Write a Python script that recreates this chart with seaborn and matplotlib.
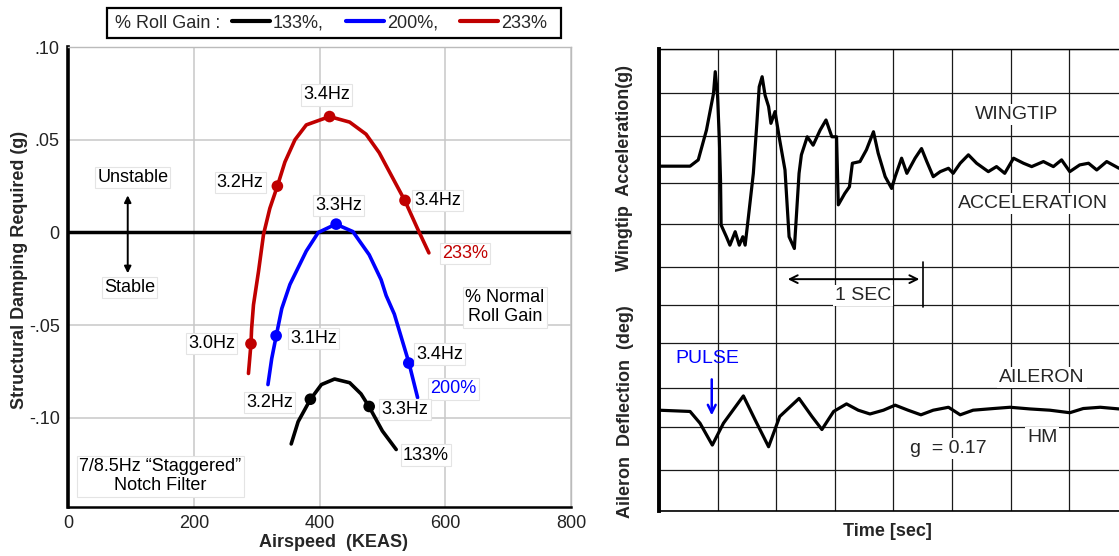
import numpy as np
import pandas as pd
import matplotlib
matplotlib.use("Agg")
import matplotlib.pyplot as plt
from matplotlib.patches import Rectangle
from matplotlib.lines import Line2D
import seaborn as sns

# ---------------- left chart data ----------------
gain_labels = ["133%", "200%", "233%"]
gain_colors = ["#000000", "#0000ff", "#c00000"]

speed_133 = [355, 366, 385.5, 403, 424, 448, 466, 479, 500, 522]
damp_133 = [-0.114, -0.102, -0.090, -0.082, -0.079, -0.081, -0.087, -0.094, -0.107, -0.117]

speed_200 = [318, 324, 331, 340, 353, 366, 379, 398, 426, 453, 479, 498, 506, 519, 542, 556]
damp_200 = [-0.082, -0.068, -0.056, -0.041, -0.028, -0.019, -0.010, 0.000, 0.0045, 0.0005,
            -0.012, -0.0255, -0.034, -0.044, -0.070, -0.089]

speed_233 = [287, 291, 292, 295, 303, 311, 321, 333, 345, 361, 379, 416, 448, 474, 495, 506, 536, 556, 574]
damp_233 = [-0.076, -0.060, -0.052, -0.039, -0.021, -0.001, 0.013, 0.025, 0.038, 0.050, 0.058,
            0.0625, 0.0595, 0.053, 0.043, 0.036, 0.017, 0.002, -0.011]

pt_speed_133 = [385.5, 479]
pt_damp_133 = [-0.0899, -0.0938]
pt_speed_200 = [331, 426.5, 542]
pt_damp_200 = [-0.0557, 0.0045, -0.0704]
pt_speed_233 = [291, 333, 416, 536]
pt_damp_233 = [-0.060, 0.025, 0.0625, 0.0173]

x_ticks = [0, 200, 400, 600, 800]
y_ticks = [0.10, 0.05, 0.0, -0.05, -0.10]
y_tick_labels = [".10", ".05", "0", "-.05", "-.10"]

# ---------------- right chart data ----------------
wingtip_trace = [
    (0.00, 8.21), (0.53, 8.21), (0.67, 8.36), (0.81, 9.07), (0.93, 9.94), (0.96, 10.46),
    (1.00, 9.87), (1.03, 8.83), (1.05, 7.88), (1.06, 6.81), (1.15, 6.53), (1.21, 6.33),
    (1.30, 6.65), (1.37, 6.33), (1.43, 6.53), (1.47, 6.33), (1.52, 6.93), (1.61, 8.04),
    (1.67, 9.23), (1.71, 10.10), (1.76, 10.34), (1.81, 9.90), (1.87, 9.63), (1.91, 9.23),
    (1.98, 9.51), (2.06, 8.83), (2.15, 8.12), (2.22, 6.53), (2.31, 6.25), (2.39, 8.04),
    (2.43, 8.48), (2.53, 8.91), (2.63, 8.71), (2.75, 9.07), (2.85, 9.31), (2.95, 8.91),
    (3.03, 8.91), (3.06, 7.29), (3.17, 7.56), (3.25, 7.72), (3.30, 8.28), (3.43, 8.32),
    (3.54, 8.60), (3.66, 9.03), (3.74, 8.52), (3.86, 7.96), (3.97, 7.68), (4.03, 7.96),
    (4.14, 8.40), (4.23, 8.04), (4.37, 8.40), (4.48, 8.63), (4.57, 8.32), (4.68, 7.96),
    (4.80, 8.08), (4.94, 8.16), (5.02, 8.04), (5.14, 8.28), (5.28, 8.48), (5.42, 8.28),
    (5.62, 8.08), (5.76, 8.20), (5.90, 8.04), (6.05, 8.40), (6.22, 8.28), (6.36, 8.20),
    (6.56, 8.32), (6.73, 8.20), (6.87, 8.36), (7.01, 8.08), (7.18, 8.24), (7.33, 8.28),
    (7.47, 8.12), (7.64, 8.32), (7.85, 8.16),
]
aileron_trace = [
    (0.00, 2.40), (0.53, 2.37), (0.70, 2.09), (0.91, 1.57), (1.10, 2.09), (1.44, 2.74),
    (1.64, 2.17), (1.87, 1.53), (2.06, 2.25), (2.39, 2.68), (2.61, 2.25), (2.78, 1.94),
    (2.98, 2.37), (3.20, 2.55), (3.40, 2.40), (3.60, 2.31), (3.83, 2.40), (4.03, 2.52),
    (4.25, 2.40), (4.47, 2.29), (4.68, 2.40), (4.94, 2.47), (5.14, 2.29), (5.36, 2.40),
    (5.71, 2.44), (5.99, 2.47), (6.33, 2.43), (6.67, 2.40), (7.01, 2.34), (7.24, 2.44),
    (7.53, 2.47), (7.85, 2.43),
]
paper_cols = [0, 1, 2, 3, 4, 5, 6, 7]
paper_rows = [0, 0.98, 2.0, 2.93, 4.0, 4.9, 5.81, 6.83, 7.81, 8.93, 9.95, 11]

# ---------------- style ----------------
sns.set_style("white")
plt.rcParams["font.family"] = ["Liberation Sans", "DejaVu Sans"]
FS = 13

W, H = 1119, 556
fig = plt.figure(figsize=(W / 100, H / 100), dpi=100)

def fig_rect(l, t, r, b):
    return [l / W, 1 - b / H, (r - l) / W, (b - t) / H]

# ---------------- left axes ----------------
ax = fig.add_axes(fig_rect(68, 47, 571, 507))

curves = pd.concat([
    pd.DataFrame({"speed": speed_133, "damping": damp_133, "gain": gain_labels[0]}),
    pd.DataFrame({"speed": speed_200, "damping": damp_200, "gain": gain_labels[1]}),
    pd.DataFrame({"speed": speed_233, "damping": damp_233, "gain": gain_labels[2]}),
], ignore_index=True)
points = pd.concat([
    pd.DataFrame({"speed": pt_speed_133, "damping": pt_damp_133, "gain": gain_labels[0]}),
    pd.DataFrame({"speed": pt_speed_200, "damping": pt_damp_200, "gain": gain_labels[1]}),
    pd.DataFrame({"speed": pt_speed_233, "damping": pt_damp_233, "gain": gain_labels[2]}),
], ignore_index=True)
palette = dict(zip(gain_labels, gain_colors))

ax.grid(True, color="#c8c8c8", lw=1.1)
ax.axhline(0, color="black", lw=2.5, zorder=2)
sns.lineplot(data=curves, x="speed", y="damping", hue="gain", palette=palette,
             sort=False, estimator=None, lw=2.6, legend=False, ax=ax, zorder=3)
sns.scatterplot(data=points, x="speed", y="damping", hue="gain", palette=palette,
                s=70, edgecolor="none", legend=False, ax=ax, zorder=4)

ax.set_xlim(0, 800)
ax.set_ylim(-0.148, 0.10)
ax.set_xticks(x_ticks)
ax.set_xticklabels([str(v) for v in x_ticks])
ax.set_yticks(y_ticks)
ax.set_yticklabels(y_tick_labels)
ax.tick_params(axis="both", length=0, labelsize=FS, pad=6, colors="#222222")
ax.set_axisbelow(True)
for s in ["top", "right"]:
    ax.spines[s].set_color("#bbbbbb")
    ax.spines[s].set_linewidth(1.0)
ax.spines["left"].set_color("black")
ax.spines["left"].set_linewidth(2.6)
ax.spines["bottom"].set_color("black")
ax.spines["bottom"].set_linewidth(1.8)

ax.set_xlabel("Airspeed  (KEAS)", fontsize=FS, fontweight="bold")
ax.set_ylabel("Structural Damping Required (g)", fontsize=FS, fontweight="bold")
ax.xaxis.set_label_coords(0.528, -0.058)
ax.yaxis.set_label_coords(-0.08, 0.515)

box = dict(boxstyle="square,pad=0.12", fc="white", ec="#e4e4e4", lw=0.8)
labels_left = [
    ("3.4Hz", 411, 0.0742, "black"),
    ("3.2Hz", 274, 0.0271, "black"),
    ("3.3Hz", 430, 0.0144, "black"),
    ("3.4Hz", 588, 0.0173, "black"),
    ("233%", 631, -0.0115, "#c00000"),
    ("Unstable", 103, 0.0296, "black"),
    ("Stable", 98, -0.0295, "black"),
    ("3.0Hz", 228, -0.0597, "black"),
    ("3.1Hz", 391, -0.057, "black"),
    ("3.4Hz", 591, -0.0656, "black"),
    ("200%", 613, -0.0843, "#0000ff"),
    ("3.2Hz", 321, -0.0916, "black"),
    ("3.3Hz", 536, -0.0956, "black"),
    ("133%", 569, -0.120, "black"),
    ("% Normal\nRoll Gain", 695, -0.0404, "black"),
    ("7/8.5Hz \u201cStaggered\u201d\nNotch Filter", 147, -0.1315, "black"),
]
for txt, x, y, c in labels_left:
    ax.text(x, y, txt, ha="center", va="center", fontsize=FS, color=c, bbox=box,
            zorder=5, linespacing=1.15)
ax.annotate("", xy=(95, 0.0215), xytext=(95, -0.0235),
            arrowprops=dict(arrowstyle="<|-|>", color="black", lw=1.4, mutation_scale=10))

# legend strip
fig.add_artist(Rectangle((106.6 / W, 1 - 38 / H), (560.8 - 106.6) / W, 30 / H,
                         transform=fig.transFigure, fill=False, ec="black", lw=1.6))
fig.text(115 / W, 1 - 23 / H, "% Roll Gain :", fontsize=FS, va="center", ha="left")
handles = [Line2D([], [], color=c, lw=3) for c in gain_colors]
leg_labels = ["133%,", "200%,", "233%"]
fig.legend(handles, leg_labels, loc="center left", bbox_to_anchor=(232 / W, 1 - 23 / H),
           ncol=3, frameon=False, fontsize=FS, handlelength=2.1, handletextpad=0.15,
           columnspacing=1.25, borderpad=0, borderaxespad=0)

# ---------------- right axes ----------------
ax2 = fig.add_axes(fig_rect(659, 49, 1119, 511))
wt = pd.DataFrame(wingtip_trace, columns=["t", "v"])
al = pd.DataFrame(aileron_trace, columns=["t", "v"])
sns.lineplot(data=wt, x="t", y="v", sort=False, estimator=None, color="black", lw=2.3, ax=ax2, zorder=3)
sns.lineplot(data=al, x="t", y="v", sort=False, estimator=None, color="black", lw=2.3, ax=ax2, zorder=3)
ax2.set_xlim(0, 7.85)
ax2.set_ylim(0, 11)
ax2.set_xticks(paper_cols)
ax2.set_yticks(paper_rows)
ax2.grid(True, color="#1a1a1a", lw=0.9)
ax2.set_axisbelow(True)
ax2.tick_params(length=0, labelbottom=False, labelleft=False)
ax2.set_xlabel("")
ax2.set_ylabel("")
ax2.spines["left"].set_linewidth(2.8)
ax2.spines["left"].set_color("black")
ax2.spines["top"].set_linewidth(1.0)
ax2.spines["top"].set_color("black")
ax2.spines["bottom"].set_linewidth(1.2)
ax2.spines["bottom"].set_color("black")
ax2.spines["right"].set_visible(False)

wbox = dict(boxstyle="square,pad=0.1", fc="white", ec="none")
FS2 = 14
ax2.text(6.11, 9.43, "WINGTIP", ha="center", va="center", fontsize=FS2, bbox=wbox, zorder=5)
ax2.text(6.38, 7.33, "ACCELERATION", ha="center", va="center", fontsize=FS2, bbox=wbox, zorder=5)
ax2.text(3.48, 5.14, "1 SEC", ha="center", va="center", fontsize=FS2, bbox=wbox, zorder=5)
ax2.text(6.54, 3.17, "AILERON", ha="center", va="center", fontsize=FS2, bbox=wbox, zorder=5)
ax2.text(6.54, 1.76, "HM", ha="center", va="center", fontsize=FS2, bbox=wbox, zorder=5)
ax2.text(4.93, 1.48, "g  = 0.17", ha="center", va="center", fontsize=FS2, bbox=wbox, zorder=5)
ax2.text(0.82, 3.62, "PULSE", ha="center", va="center", fontsize=FS2, color="#0000ff", zorder=5)
ax2.annotate("", xy=(2.15, 5.52), xytext=(4.49, 5.52),
             arrowprops=dict(arrowstyle="<->", color="black", lw=1.4, mutation_scale=14), zorder=6)
ax2.plot([4.5, 4.5], [4.86, 5.93], color="black", lw=1.2, zorder=6)
ax2.annotate("", xy=(0.90, 2.21), xytext=(0.90, 3.20),
             arrowprops=dict(arrowstyle="->", color="#0000ff", lw=1.8, mutation_scale=14), zorder=6)

ax2.text(-0.074, 0.742, "Wingtip  Acceleration(g)", rotation=90, ha="center", va="center",
         fontsize=FS, fontweight="bold", transform=ax2.transAxes)
ax2.text(-0.072, 0.216, "Aileron  Deflection  (deg)", rotation=90, ha="center", va="center",
         fontsize=FS, fontweight="bold", transform=ax2.transAxes)
ax2.text(0.496, -0.045, "Time [sec]", ha="center", va="center", fontsize=FS,
         fontweight="bold", transform=ax2.transAxes)

fig.savefig("out.png", dpi=100)
